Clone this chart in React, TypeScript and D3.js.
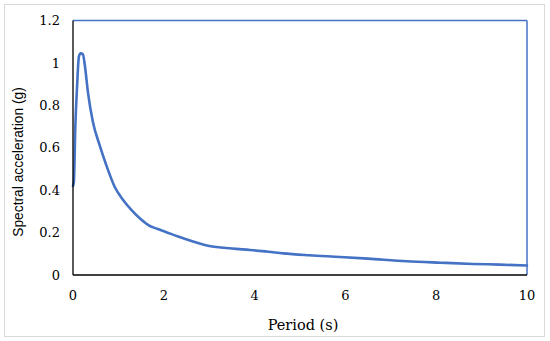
import React from "react";
import * as d3 from "d3";

const periods = [0, 0.02, 0.05, 0.09, 0.13, 0.17, 0.22, 0.26, 0.33, 0.44, 0.59, 0.73, 0.92, 1.1, 1.29, 1.5, 1.66, 1.85, 2.03, 2.43, 3.0, 3.5, 3.9, 4.3, 4.63, 5.2, 5.88, 6.5, 7.35, 8.1, 8.81, 9.4, 10];
const accel = [0.42, 0.44, 0.69, 0.89, 1.03, 1.045, 1.04, 0.99, 0.86, 0.72, 0.61, 0.52, 0.415, 0.355, 0.306, 0.262, 0.235, 0.218, 0.204, 0.173, 0.137, 0.125, 0.118, 0.11, 0.102, 0.093, 0.085, 0.077, 0.065, 0.058, 0.052, 0.049, 0.045];
const xTicks = [0, 2, 4, 6, 8, 10];
const yTicks = [0, 0.2, 0.4, 0.6, 0.8, 1, 1.2];
const xTitle = "Period (s)";
const yTitle = "Spectral acceleration (g)";

const W = 550;
const H = 341;
const left = 73;
const right = 527;
const top = 20.5;
const bottom = 275;

export default function App() {
  const x = d3.scaleLinear().domain([0, 10]).range([left, right]);
  const y = d3.scaleLinear().domain([0, 1.2]).range([bottom, top]);
  const data = periods.map((p, i) => [p, accel[i]] as [number, number]);
  const line = d3
    .line<[number, number]>()
    .x((d) => x(d[0]))
    .y((d) => y(d[1]))
    .curve(d3.curveMonotoneX);
  const serif = "'DejaVu Serif', 'Liberation Serif', serif";
  return (
    <svg
      width={W}
      height={H}
      style={{ position: "absolute", left: 0, top: 0, background: "#fff" }}
    >
      <rect x={4.5} y={4.5} width={540} height={332} fill="#fff" stroke="#d9d9d9" strokeWidth={1} />
      {/* top & right border (blue) */}
      <line x1={left} x2={right} y1={top} y2={top} stroke="#4472C4" strokeWidth={1.5} />
      <line x1={right} x2={right} y1={top} y2={bottom} stroke="#4472C4" strokeWidth={1.5} />
      <path d={line(data) || ""} fill="none" stroke="#4472C4" strokeWidth={2.6} strokeLinejoin="round" strokeLinecap="round" />
      {/* axes */}
      <line x1={left} x2={left} y1={top} y2={bottom} stroke="#000" strokeWidth={1.3} />
      <line x1={left} x2={right} y1={bottom} y2={bottom} stroke="#000" strokeWidth={1.3} />
      {yTicks.map((t) => (
        <text key={"y" + t} x={60} y={y(t)} dy="0.36em" textAnchor="end" fontFamily={serif} fontSize={13} fill="#000">
          {String(t)}
        </text>
      ))}
      {xTicks.map((t) => (
        <text key={"x" + t} x={x(t)} y={300} textAnchor="middle" fontFamily={serif} fontSize={13} fill="#000">
          {String(t)}
        </text>
      ))}
      <text x={(left + right) / 2 + 3} y={330} textAnchor="middle" fontFamily={serif} fontSize={14.5} fill="#000">
        {xTitle}
      </text>
      <text
        transform="translate(23,162) rotate(-90)"
        textAnchor="middle"
        fontFamily="'Liberation Sans', Arial, sans-serif"
        fontSize={13.8}
        fill="#000"
      >
        {yTitle}
      </text>
    </svg>
  );
}
